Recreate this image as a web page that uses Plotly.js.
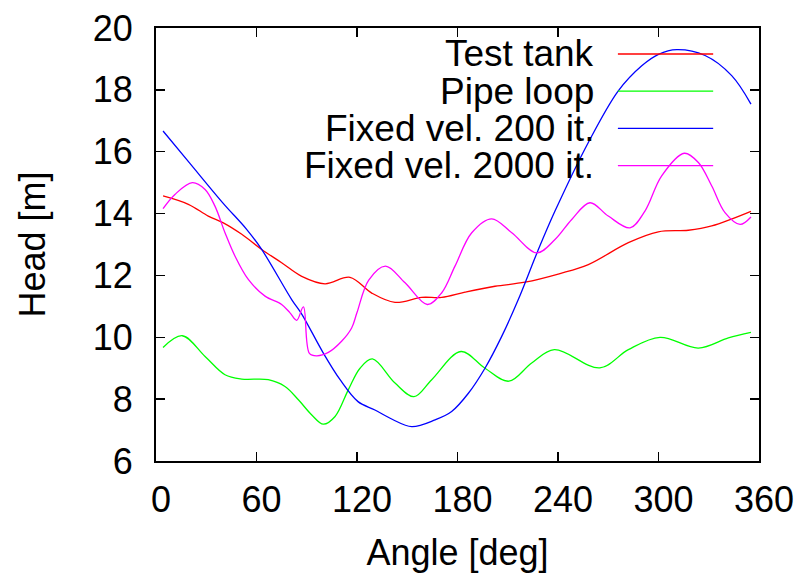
<!DOCTYPE html>
<html>
<head>
<meta charset="utf-8">
<script src="https://cdn.plot.ly/plotly-3.0.1.min.js"></script>
<style>
  html, body { margin: 0; padding: 0; background: #fff; }
  #chart { width: 796px; height: 573px; }
</style>
</head>
<body>
<div id="chart"></div>
<script>
// Head vs. angle for four cases
const seriesNames = ["Test tank", "Pipe loop", "Fixed vel. 200 it.", "Fixed vel. 2000 it."];
const seriesColors = ["#ff0000", "#00ff00", "#0000ff", "#ff00ff"];

const tankAngle = [4.2, 19.3, 31.2, 40.2, 51.2, 63.1, 75, 87, 100.9, 115.8, 128.8, 142.7, 158.6, 170.6, 184.5, 202.4, 220.3, 241.2, 258.1, 282, 299.9, 317.8, 331.8, 355.2];
const tankHead  = [14.57, 14.30, 13.92, 13.70, 13.33, 12.84, 12.41, 11.97, 11.73, 11.94, 11.43, 11.13, 11.29, 11.29, 11.46, 11.65, 11.78, 12.06, 12.35, 13.06, 13.41, 13.46, 13.60, 14.07];

const loopAngle = [4.2, 15.7, 29.3, 41.2, 51.2, 67, 77, 85, 93, 99.9, 106.9, 114.8, 121.8, 129.2, 142.7, 154, 164.6, 182.1, 196.4, 210.7, 224.3, 237.8, 265, 282, 300.9, 323.8, 341.7, 355.2];
const loopHead  = [9.67, 10.05, 9.38, 8.79, 8.65, 8.63, 8.41, 7.98, 7.49, 7.19, 7.44, 8.30, 9.0, 9.30, 8.52, 8.08, 8.63, 9.54, 9.0, 8.58, 9.17, 9.60, 9.01, 9.60, 10.0, 9.65, 9.98, 10.16];

const fv200Angle = [4.2, 20, 40, 54.1, 63.1, 81, 87, 99.9, 109.9, 120.6, 130.7, 141, 152.7, 166.6, 176.5, 186.5, 196.4, 206.4, 216.3, 228, 238.2, 258.1, 276, 290, 300, 310.9, 327.8, 343.7, 355.2];
const fv200Head  = [16.67, 15.64, 14.34, 13.49, 12.84, 11.22, 10.75, 9.49, 8.63, 7.92, 7.65, 7.35, 7.11, 7.33, 7.60, 8.19, 9.0, 10.03, 11.22, 12.8, 14.08, 16.30, 17.97, 18.78, 19.15, 19.30, 19.11, 18.46, 17.54];

const fv2000Angle = [4.2, 11.3, 21.7, 29.3, 35.2, 41.2, 47.2, 55.1, 65.1, 75, 80, 84, 88, 91.6, 95.9, 102.9, 110.8, 116.8, 120, 127, 137, 148.7, 162, 170.6, 178.5, 188.5, 200.4, 212.4, 227.3, 238.2, 248.2, 259.1, 270, 283, 291.9, 301.9, 315.4, 323.8, 331.8, 339.7, 348.7, 355.2];
const fv2000Head  = [14.16, 14.62, 15.0, 14.78, 14.24, 13.38, 12.62, 11.87, 11.33, 11.06, 10.79, 10.55, 10.98, 9.48, 9.40, 9.51, 9.87, 10.30, 10.80, 11.85, 12.30, 11.76, 11.06, 11.44, 12.30, 13.38, 13.83, 13.38, 12.73, 13.16, 13.81, 14.35, 13.92, 13.54, 14.08, 15.22, 15.95, 15.65, 14.89, 14.03, 13.65, 13.89];

const xTicks = [0, 60, 120, 180, 240, 300, 360];
const yTicks = [6, 8, 10, 12, 14, 16, 18, 20];

const FONT = "Liberation Sans, Arial, sans-serif";

const xs = [tankAngle, loopAngle, fv200Angle, fv2000Angle];
const ys = [tankHead, loopHead, fv200Head, fv2000Head];

const traces = xs.map((x, i) => ({
  x: x,
  y: ys[i],
  type: "scatter",
  mode: "lines",
  name: seriesNames[i],
  line: { color: seriesColors[i], width: 1.3, shape: "spline", smoothing: 1 },
  showlegend: false,
  hoverinfo: "skip"
}));

// gnuplot-style key: right-aligned text with the line sample after it
const keyTop = 0.94, keyStep = 0.086;
const annotations = seriesNames.map((n, i) => ({
  xref: "paper", yref: "paper",
  x: 0.73, y: keyTop - i * keyStep,
  xanchor: "right", yanchor: "middle",
  text: n, showarrow: false,
  font: { family: FONT, size: 37, color: "#000" }
}));
const shapes = seriesNames.map((n, i) => ({
  type: "line", xref: "paper", yref: "paper",
  x0: 0.766, x1: 0.924,
  y0: keyTop - i * keyStep, y1: keyTop - i * keyStep,
  line: { color: seriesColors[i], width: 1.3 }
}));

const axisCommon = {
  showline: true, linecolor: "#000", linewidth: 2, mirror: "allticks",
  ticks: "inside", ticklen: 9, tickwidth: 1.5, tickcolor: "#000",
  showgrid: false, zeroline: false,
  tickfont: { family: FONT, size: 36, color: "#000" }
};

const layout = {
  width: 796, height: 573,
  margin: { l: 156, r: 37, t: 28, b: 112 },
  paper_bgcolor: "#fff", plot_bgcolor: "#fff",
  font: { family: FONT, color: "#000" },
  xaxis: Object.assign({}, axisCommon, {
    range: [0, 360], tickmode: "array", tickvals: xTicks, ticktext: xTicks.map(String),
    ticklabelstandoff: 6, ticklabelshift: 5,
    title: { text: "Angle [deg]", font: { family: FONT, size: 36, color: "#000" }, standoff: 23 }
  }),
  yaxis: Object.assign({}, axisCommon, {
    range: [6, 20], tickmode: "array", tickvals: yTicks, ticktext: yTicks.map(String),
    ticklabelstandoff: 14,
    title: { text: "Head [m]", font: { family: FONT, size: 36, color: "#000" }, standoff: 36 }
  }),
  annotations: annotations,
  shapes: shapes,
  showlegend: false
};

Plotly.newPlot("chart", traces, layout, { staticPlot: true, displayModeBar: false });
</script>
</body>
</html>
